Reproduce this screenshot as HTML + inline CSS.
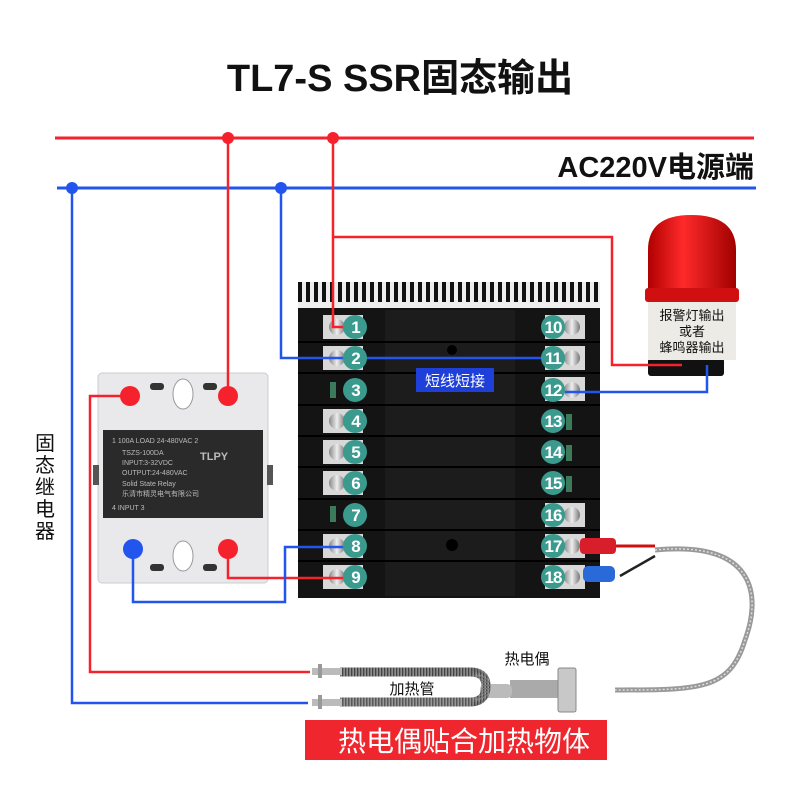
<!DOCTYPE html>
<html><head><meta charset="utf-8"><style>
html,body{margin:0;padding:0;background:#fff;}
svg{display:block;}
text{font-family:"Liberation Sans","Noto Sans CJK SC",sans-serif;}
</style></head><body>
<svg width="790" height="805" viewBox="0 0 790 805" xmlns="http://www.w3.org/2000/svg">
<defs>
<linearGradient id="dome" x1="0" x2="1"><stop offset="0" stop-color="#b00000"/><stop offset="0.4" stop-color="#ff2a2a"/><stop offset="1" stop-color="#a00000"/></linearGradient>
<linearGradient id="screw" x1="0" x2="1"><stop offset="0" stop-color="#888"/><stop offset="0.5" stop-color="#eee"/><stop offset="1" stop-color="#777"/></linearGradient>
<pattern id="grill" width="8" height="28" patternUnits="userSpaceOnUse"><rect width="8" height="28" fill="#eee"/><rect x="2" width="4" height="22" fill="#111"/></pattern>
<pattern id="coil" width="3" height="10" patternUnits="userSpaceOnUse"><rect width="3" height="10" fill="#999"/><rect width="1.4" height="10" fill="#444"/></pattern>
</defs>

<text x="400" y="91" font-size="38" font-weight="bold" text-anchor="middle" fill="#111">TL7-S SSR固态输出</text>
<text x="754" y="177" font-size="29" font-weight="bold" text-anchor="end" fill="#111">AC220V电源端</text>

<!-- bus lines -->
<g stroke-width="3" fill="none">
<line x1="55" y1="138" x2="754" y2="138" stroke="#f5222d"/>
<line x1="57" y1="188" x2="756" y2="188" stroke="#2255ee"/>
</g>

<!-- SSR -->
<rect x="98" y="373" width="170" height="210" rx="4" fill="#e9e9eb" stroke="#ccc"/>
<rect x="103" y="430" width="160" height="88" fill="#2a2a2a"/>
<rect x="93" y="465" width="6" height="20" fill="#555"/><rect x="267" y="465" width="6" height="20" fill="#555"/>
<ellipse cx="183" cy="394" rx="10" ry="15" fill="#fff" stroke="#999"/>
<ellipse cx="183" cy="556" rx="10" ry="15" fill="#fff" stroke="#999"/>
<rect x="150" y="383" width="14" height="7" rx="3" fill="#333"/><rect x="203" y="383" width="14" height="7" rx="3" fill="#333"/>
<rect x="150" y="564" width="14" height="7" rx="3" fill="#333"/><rect x="203" y="564" width="14" height="7" rx="3" fill="#333"/>
<g fill="#bbb" font-size="7">
<text x="112" y="443">1 100A    LOAD   24-480VAC 2</text>
<text x="122" y="455">TSZS-100DA</text>
<text x="122" y="465">INPUT:3-32VDC</text>
<text x="122" y="475">OUTPUT:24-480VAC</text>
<text x="122" y="486">Solid State Relay</text>
<text x="122" y="496">乐清市精灵电气有限公司</text>
<text x="112" y="510">4        INPUT          3</text>
<text x="200" y="460" font-size="11" font-weight="bold">TLPY</text>
</g>

<!-- controller -->
<rect x="298" y="282" width="302" height="27" fill="url(#grill)"/>
<rect x="298" y="308" width="302" height="290" fill="#141414"/>
<rect x="385" y="310" width="130" height="286" fill="#1c1c1c"/>
<circle cx="452" cy="350" r="5" fill="#000"/><circle cx="452" cy="545" r="6" fill="#000"/>
<g id="L">
</g>
<g>
<!-- left terminals -->
<g fill="#d8d8d8">
<rect x="323" y="315" width="40" height="24"/><rect x="323" y="346" width="40" height="24"/>
<rect x="323" y="409" width="40" height="24"/><rect x="323" y="440" width="40" height="24"/><rect x="323" y="471" width="40" height="24"/>
<rect x="323" y="534" width="40" height="24"/><rect x="323" y="565" width="40" height="24"/>
<rect x="545" y="315" width="40" height="24"/><rect x="545" y="346" width="40" height="24"/><rect x="545" y="377" width="40" height="24"/>
<rect x="545" y="503" width="40" height="24"/><rect x="545" y="534" width="40" height="24"/><rect x="545" y="565" width="40" height="24"/>
</g>
<g fill="url(#screw)">
<circle cx="337" cy="327" r="8"/><circle cx="337" cy="358" r="8"/><circle cx="337" cy="421" r="8"/><circle cx="337" cy="452" r="8"/><circle cx="337" cy="483" r="8"/><circle cx="337" cy="546" r="8"/><circle cx="337" cy="577" r="8"/>
<circle cx="572" cy="327" r="8"/><circle cx="572" cy="358" r="8"/><circle cx="572" cy="390" r="8"/><circle cx="572" cy="515" r="8"/><circle cx="572" cy="546" r="8"/><circle cx="572" cy="577" r="8"/>
</g>
<g fill="#3c7a5c"><rect x="330" y="382" width="6" height="16"/><rect x="330" y="506" width="6" height="16"/><rect x="566" y="414" width="6" height="16"/><rect x="566" y="445" width="6" height="16"/><rect x="566" y="476" width="6" height="16"/></g>
<g stroke="#000" stroke-width="2"><line x1="298" y1="342" x2="600" y2="342"/><line x1="298" y1="373" x2="600" y2="373"/><line x1="298" y1="405" x2="600" y2="405"/><line x1="298" y1="436" x2="600" y2="436"/><line x1="298" y1="467" x2="600" y2="467"/><line x1="298" y1="499" x2="600" y2="499"/><line x1="298" y1="530" x2="600" y2="530"/><line x1="298" y1="561" x2="600" y2="561"/></g>
</g>

<!-- alarm -->
<rect x="648" y="358" width="76" height="18" rx="3" fill="#111"/>
<rect x="648" y="300" width="88" height="60" fill="#ecebe6"/>
<path d="M648 302 L648 250 Q648 215 691 215 Q736 215 736 250 L736 302 Z" fill="url(#dome)"/>
<rect x="645" y="288" width="94" height="14" rx="3" fill="#d01010"/>
<g font-size="13" text-anchor="middle" fill="#111"><text x="692" y="320">报警灯输出</text><text x="692" y="336">或者</text><text x="692" y="352">蜂鸣器输出</text></g>

<!-- wires -->
<g stroke-width="2.5" fill="none">
<polyline points="228,138 228,396" stroke="#f5222d"/>
<polyline points="333,138 333,327 345,327" stroke="#f5222d"/>
<polyline points="333,237 612,237 612,365 682,365" stroke="#f5222d"/>
<polyline points="130,396 90,396 90,672 310,672" stroke="#f5222d"/>
<polyline points="228,549 228,578 345,578" stroke="#f5222d"/>
<polyline points="72,188 72,703 308,703" stroke="#2255ee"/>
<polyline points="281,188 281,358 345,358 553,358" stroke="#2255ee"/>
<polyline points="565,392 707,392 707,365" stroke="#2255ee"/>
<polyline points="133,549 133,602 285,602 285,547 345,547" stroke="#2255ee"/>
</g>
<g fill="#f5222d"><circle cx="228" cy="138" r="6"/><circle cx="333" cy="138" r="6"/><circle cx="130" cy="396" r="10"/><circle cx="228" cy="396" r="10"/><circle cx="228" cy="549" r="10"/></g>
<g fill="#2255ee"><circle cx="72" cy="188" r="6"/><circle cx="281" cy="188" r="6"/><circle cx="133" cy="549" r="10"/></g>

<!-- short label -->
<rect x="416" y="368" width="78" height="24" fill="#1e3fd8"/>
<text x="455" y="386" font-size="15" text-anchor="middle" fill="#fff">短线短接</text>

<!-- terminal numbers -->
<g fill="#3b9a8e"><circle cx="355" cy="327" r="12"/><circle cx="355" cy="358" r="12"/><circle cx="355" cy="390" r="12"/><circle cx="355" cy="421" r="12"/><circle cx="355" cy="452" r="12"/><circle cx="355" cy="483" r="12"/><circle cx="355" cy="515" r="12"/><circle cx="355" cy="546" r="12"/><circle cx="355" cy="577" r="12"/>
<circle cx="553" cy="327" r="12"/><circle cx="553" cy="358" r="12"/><circle cx="553" cy="390" r="12"/><circle cx="553" cy="421" r="12"/><circle cx="553" cy="452" r="12"/><circle cx="553" cy="483" r="12"/><circle cx="553" cy="515" r="12"/><circle cx="553" cy="546" r="12"/><circle cx="553" cy="577" r="12"/></g>
<g fill="#fff" font-size="17" font-weight="bold" text-anchor="middle">
<text x="356" y="333">1</text><text x="356" y="364">2</text><text x="356" y="396">3</text><text x="356" y="427">4</text><text x="356" y="458">5</text><text x="356" y="489">6</text><text x="356" y="521">7</text><text x="356" y="552">8</text><text x="356" y="583">9</text>
<text x="553" y="333" letter-spacing="-1">10</text><text x="553" y="364" letter-spacing="-1">11</text><text x="553" y="396" letter-spacing="-1">12</text><text x="553" y="427" letter-spacing="-1">13</text><text x="553" y="458" letter-spacing="-1">14</text><text x="553" y="489" letter-spacing="-1">15</text><text x="553" y="521" letter-spacing="-1">16</text><text x="553" y="552" letter-spacing="-1">17</text><text x="553" y="583" letter-spacing="-1">18</text>
</g>

<!-- thermocouple leads -->
<path d="M614 546 L655 546" stroke="#d01010" stroke-width="3"/>
<path d="M620 576 L655 556" stroke="#222" stroke-width="2.5"/>
<rect x="580" y="538" width="36" height="16" rx="4" fill="#d81e2a"/>
<rect x="583" y="566" width="32" height="16" rx="5" fill="#2a6ad8"/>
<path d="M655 550 C760 540 760 600 745 640 C730 690 700 690 615 690" stroke="#999" stroke-width="5" fill="none"/>
<path d="M655 550 C760 540 760 600 745 640 C730 690 700 690 615 690" stroke="#ddd" stroke-width="1.5" fill="none" stroke-dasharray="2 2"/>
<rect x="510" y="680" width="50" height="18" fill="#aaa"/>
<rect x="558" y="668" width="18" height="44" rx="2" fill="#c8c8c8" stroke="#888"/>
<rect x="480" y="684" width="32" height="14" rx="5" fill="#bbb"/>
<!-- heater -->
<path d="M340 672 L470 672 Q486 672 486 686 Q486 702 470 702 L340 702" stroke="url(#coil)" stroke-width="9" fill="none"/>
<path d="M340 672 L470 672 Q486 672 486 686 Q486 702 470 702 L340 702" stroke="#777" stroke-width="9" fill="none" stroke-dasharray="1.4 1.6"/>
<rect x="312" y="668" width="30" height="7" fill="#bbb"/><rect x="312" y="699" width="30" height="7" fill="#bbb"/>
<rect x="318" y="664" width="4" height="14" fill="#999"/><rect x="318" y="695" width="4" height="14" fill="#999"/>

<text x="412" y="694" font-size="15" text-anchor="middle" fill="#111">加热管</text>
<text x="527" y="664" font-size="15" text-anchor="middle" fill="#111">热电偶</text>

<rect x="305" y="720" width="302" height="40" fill="#f0262e"/>
<text x="464" y="751" font-size="28" text-anchor="middle" fill="#fff">热电偶贴合加热物体</text>

<g font-size="20" text-anchor="middle" fill="#111"><text x="45" y="450">固</text><text x="45" y="472">态</text><text x="45" y="494">继</text><text x="45" y="516">电</text><text x="45" y="538">器</text></g>
</svg>
</body></html>
